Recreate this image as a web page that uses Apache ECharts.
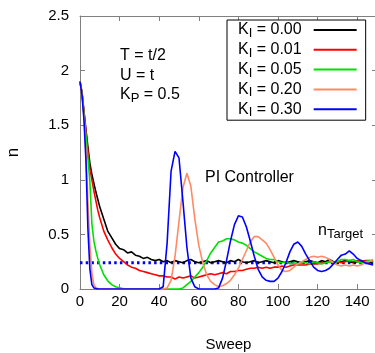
<!DOCTYPE html>
<html><head><meta charset="utf-8">
<script src="https://cdn.jsdelivr.net/npm/echarts@6/dist/echarts.min.js"></script>
<style>html,body{margin:0;padding:0;background:#fff}#c{width:375px;height:353px}</style>
</head><body><div id="c"></div>
<script>
// ---- data ----
const sweep = [0,1,2,3,4,5,6,7,8,9,10,
  12,14,16,18,20,22,24,26,28,30,
  32,34,36,38,40,42,44,46,48,50,
  52,54,56,58,60,62,64,66,68,70,
  72,74,76,78,80,82,84,86,88,90,
  92,94,96,98,100,102,104,106,108,110,
  112,114,116,118,120,122,124,126,128,130,
  132,134,136,138,140,142,144,146,148];
const kiLabels = ['0.00','0.01','0.05','0.20','0.30'];
const k000 = [1.90,1.80,1.63,1.46,1.30,1.15,1.05,0.97,0.89,0.82,0.75,
  0.64,0.53,0.47,0.41,0.37,0.36,0.33,0.34,0.31,0.30,
  0.28,0.29,0.27,0.26,0.27,0.25,0.26,0.24,0.26,0.25,
  0.24,0.26,0.27,0.25,0.24,0.25,0.26,0.24,0.25,0.26,
  0.25,0.24,0.26,0.25,0.27,0.25,0.24,0.25,0.26,0.24,
  0.25,0.26,0.25,0.24,0.26,0.25,0.24,0.25,0.26,0.25,
  0.24,0.25,0.26,0.25,0.24,0.26,0.25,0.27,0.25,0.24,
  0.25,0.26,0.25,0.24,0.25,0.26,0.25,0.24,0.25];
const k001 = [1.90,1.80,1.62,1.44,1.26,1.10,1.00,0.90,0.81,0.72,0.65,
  0.53,0.45,0.38,0.32,0.28,0.25,0.22,0.20,0.19,0.17,
  0.16,0.15,0.14,0.13,0.12,0.12,0.11,0.11,0.09,0.11,
  0.10,0.11,0.12,0.10,0.11,0.12,0.13,0.14,0.13,0.14,
  0.15,0.14,0.16,0.16,0.17,0.17,0.18,0.19,0.19,0.20,
  0.19,0.20,0.19,0.20,0.20,0.21,0.20,0.21,0.22,0.22,
  0.22,0.22,0.23,0.23,0.23,0.24,0.24,0.25,0.25,0.25,
  0.24,0.25,0.26,0.25,0.26,0.25,0.26,0.26,0.26];
const k005 = [1.90,1.79,1.60,1.40,1.20,0.98,0.60,0.44,0.35,0.28,0.22,
  0.13,0.075,0.04,0.02,0.01,0.003,0,0,0,0,
  0,0,0,0,0,0,0,0,0,0,
  0.01,0.04,0.07,0.11,0.15,0.20,0.26,0.33,0.38,0.43,
  0.44,0.46,0.46,0.45,0.43,0.42,0.40,0.37,0.34,0.32,
  0.30,0.28,0.27,0.27,0.25,0.24,0.25,0.23,0.24,0.23,
  0.24,0.24,0.23,0.25,0.24,0.23,0.24,0.25,0.24,0.25,
  0.27,0.27,0.26,0.27,0.25,0.24,0.25,0.26,0.25];
const k020 = [1.90,1.79,1.58,1.25,0.80,0.40,0.15,0.04,0.01,0,0,
  0,0,0,0,0,0,0,0,0,0,
  0,0,0,0,0,0,0.01,0.08,0.30,0.62,
  0.93,1.06,0.94,0.64,0.40,0.24,0.13,0.07,0.04,0.02,
  0.03,0.05,0.08,0.13,0.19,0.27,0.35,0.43,0.48,0.48,
  0.45,0.42,0.36,0.29,0.22,0.17,0.16,0.17,0.20,0.23,
  0.25,0.27,0.29,0.30,0.29,0.30,0.29,0.27,0.24,0.22,
  0.21,0.22,0.21,0.22,0.21,0.22,0.24,0.25,0.27];
const k030 = [1.90,1.78,1.55,1.18,0.55,0.18,0.04,0.01,0,0,0,
  0,0,0,0,0,0,0,0,0,0,
  0,0,0,0,0,0.02,0.42,1.08,1.26,1.20,
  0.80,0.38,0.10,0.02,0,0,0,0,0,0.01,
  0.10,0.26,0.44,0.59,0.67,0.66,0.57,0.44,0.30,0.18,
  0.11,0.08,0.07,0.07,0.10,0.16,0.24,0.34,0.41,0.43,
  0.39,0.32,0.26,0.20,0.17,0.16,0.17,0.19,0.23,0.27,
  0.31,0.32,0.35,0.32,0.28,0.26,0.24,0.23,0.22];
const nTarget = 0.24;
const targetRange = [0, 150];
const xTicks = {min: 0, max: 150, interval: 20};
const yTicks = {min: 0, max: 2.5, interval: 0.5};

// ---- fonts ----
function hasFont(f){
  const c=document.createElement('canvas').getContext('2d');
  const t='abcdefghijklmnop ABCDEFG 0123456789';
  c.font='40px monospace'; const a=c.measureText(t).width;
  c.font='40px "'+f+'", monospace'; const b=c.measureText(t).width;
  return a!==b;
}
const NARROW = hasFont('Liberation Sans Narrow');
const FF = NARROW ? '"Liberation Sans Narrow", "Liberation Sans", Arial' : '"Liberation Sans", Arial';
const F = NARROW ? 1 : 0.85;   // size factor
const fs = v => Math.round(v*F);

const colors = ['#000000','#ff0000','#00e000','#ff8a65','#0000ff'];
const seriesVals = [k000,k001,k005,k020,k030];

const chart = echarts.init(document.getElementById('c'), null, {renderer:'canvas'});
const axisCol = '#808080';
const mainAxisCommon = {
  type:'value', splitLine:{show:false},
  axisLine:{show:true, onZero:false, lineStyle:{color:axisCol,width:1}},
  axisTick:{show:true, inside:true, length:5, lineStyle:{color:axisCol}}
};
const series = [{
  type:'line', name:'target', silent:true, symbol:'none',
  data: targetRange.map(x=>[x,nTarget]),
  lineStyle:{color:'#0000ff', width:3, type:[2.5,3.2]}
}];
kiLabels.forEach((k,i)=>{
  series.push({
    type:'line', name:k, symbol:'none', showSymbol:false, smooth:false,
    data: sweep.map((s,j)=>[s, seriesVals[i][j]]),
    lineStyle:{color:colors[i], width:1.6}, itemStyle:{color:colors[i]},
    emphasis:{disabled:true}
  });
});

const mainRich = {
  a:{fontSize:fs(19), fontFamily:FF, color:'#000', lineHeight:20},
  b:{fontSize:fs(15), fontFamily:FF, color:'#000', lineHeight:8, verticalAlign:'bottom'},
  c:{fontSize:fs(19), fontFamily:FF, color:'#000', lineHeight:20, padding:[0,7,0,0]}
};

chart.setOption({
  animation:false,
  backgroundColor:'#fff',
  grid:{left:80, top:16, right:-2, bottom:64, containLabel:false, outerBoundsMode:'none'},
  xAxis:[
    Object.assign({}, mainAxisCommon, xTicks, {position:'bottom',
      axisLabel:{color:'#000', fontSize:fs(18), fontFamily:FF, margin:5, showMaxLabel:false},
      name:'Sweep', nameLocation:'middle', nameGap:48,
      nameTextStyle:{color:'#000', fontSize:fs(18), fontFamily:FF}}),
    Object.assign({}, mainAxisCommon, xTicks, {position:'top', axisLabel:{show:false}})
  ],
  yAxis:[
    Object.assign({}, mainAxisCommon, yTicks, {position:'left',
      axisLabel:{color:'#000', fontSize:fs(18), fontFamily:FF, margin:11},
      name:'n', nameLocation:'middle', nameGap:58, nameRotate:90,
      nameTextStyle:{color:'#000', fontSize:fs(20), fontFamily:FF}}),
    Object.assign({}, mainAxisCommon, yTicks, {position:'right', axisLabel:{show:false}})
  ],
  legend:{
    data:kiLabels, orient:'vertical', left:227, top:20, align:'right',
    icon:'rect', itemWidth:43, itemHeight:2, itemGap:1.8,
    padding:[2,9,1,11], borderColor:'#000', borderWidth:1, backgroundColor:'#fff',
    selectedMode:false,
    formatter: n => '{a|K}{b|I}{c| = ' + n + '}',
    textStyle:{rich:mainRich}
  },
  graphic:[
    {type:'text', left:120, top:48, style:{text:'T = t/2', font:fs(19)+'px '+FF, fill:'#000'}},
    {type:'text', left:120, top:68, style:{text:'U = t', font:fs(19)+'px '+FF, fill:'#000'}},
    {type:'text', left:120, top:87, style:{text:'{a|K}{b|P}{a| = 0.5}', rich:mainRich}},
    {type:'text', left:205, top:170, style:{text:'PI Controller', font:fs(19)+'px '+FF, fill:'#000'}},
    {type:'text', left:318, top:223, style:{text:'{a|n}{b|Target}', rich:mainRich}}
  ],
  series: series
});
</script></body></html>
